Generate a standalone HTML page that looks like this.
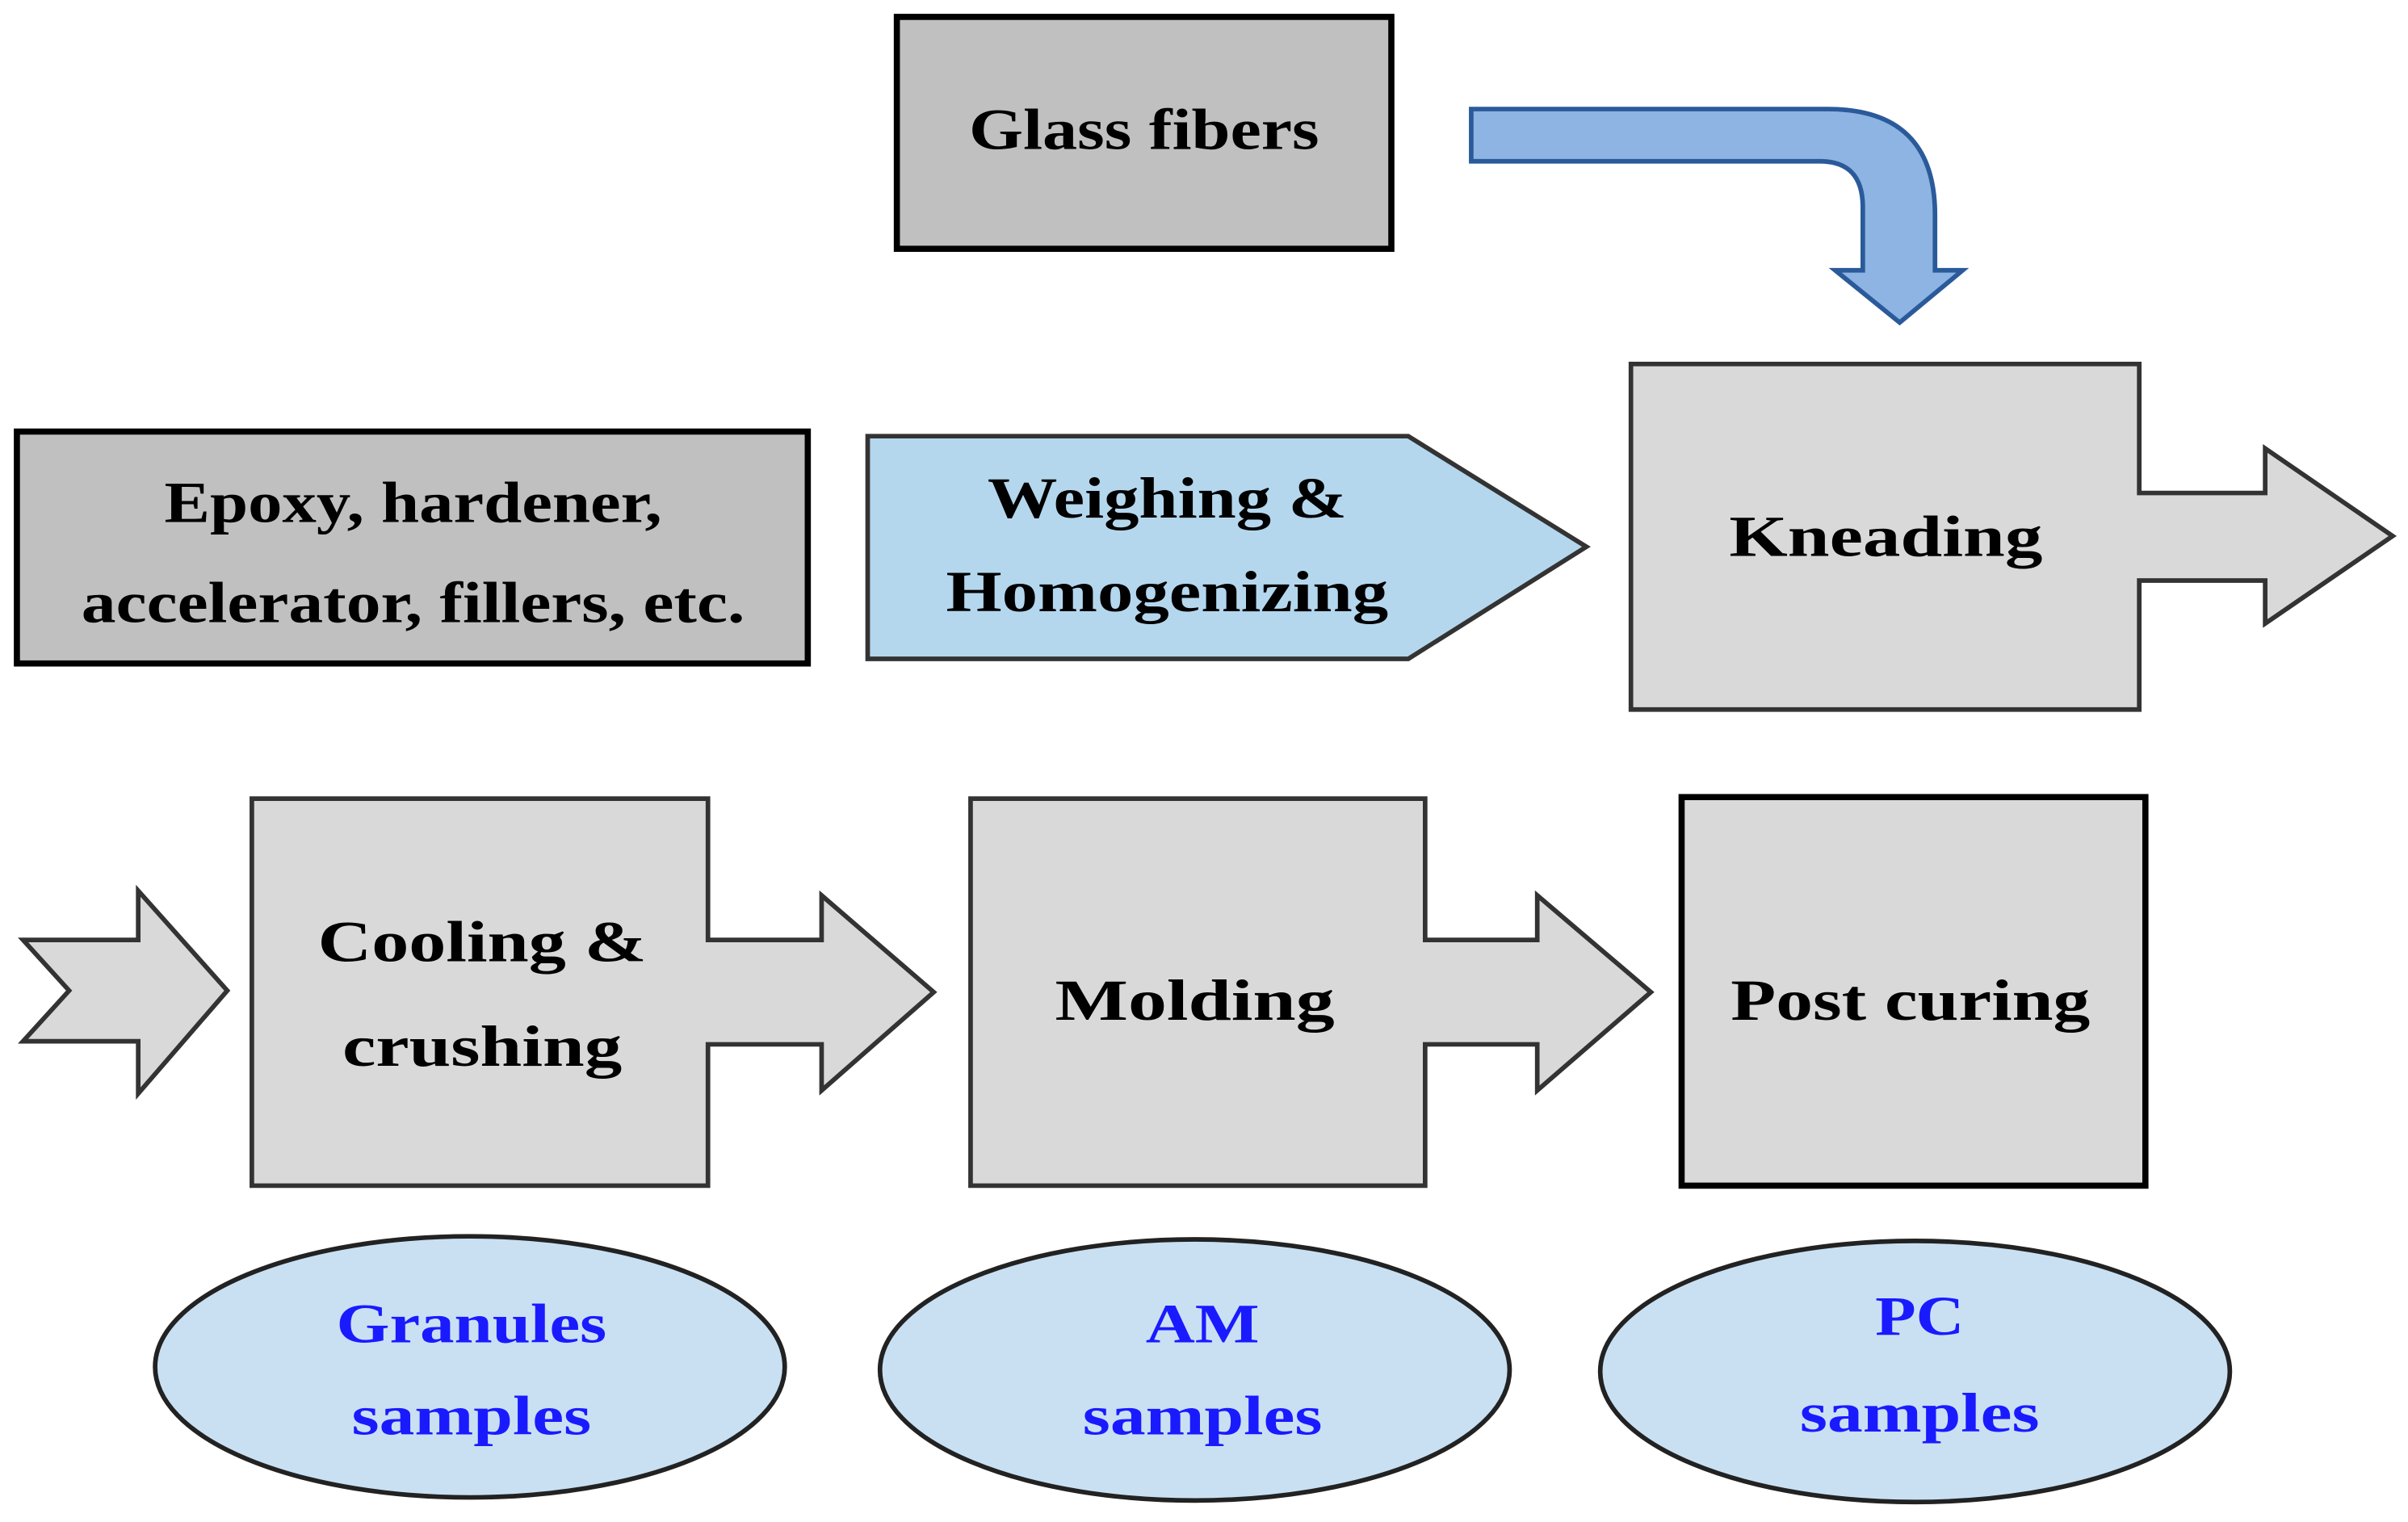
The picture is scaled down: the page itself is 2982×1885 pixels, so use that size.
<!DOCTYPE html>
<html><head><meta charset="utf-8"><style>html,body{margin:0;padding:0;background:#fff}svg{display:block}</style></head>
<body>
<svg width="2982" height="1885" viewBox="0 0 1568 991" preserveAspectRatio="none" xmlns="http://www.w3.org/2000/svg" font-family="Liberation Serif, serif" font-weight="bold">
<rect x="0" y="0" width="1568" height="991" fill="#fff"/>
<rect x="584" y="11" width="322" height="151" fill="#c0c0c0" stroke="#000" stroke-width="4"/>
<text x="745" y="97" font-size="38" text-anchor="middle" textLength="228" lengthAdjust="spacingAndGlyphs">Glass fibers</text>
<path d="M958,71 L1190,71 Q1260,71 1260,140 L1260,176 L1278,176 L1237,210 L1195,176 L1213,176 L1213,135 Q1213,105 1185,105 L958,105 Z" fill="#8eb4e3" stroke="#2a5a9a" stroke-width="3"/>
<rect x="11" y="281" width="515" height="151" fill="#c0c0c0" stroke="#000" stroke-width="4"/>
<text x="269" y="340" font-size="38" text-anchor="middle" textLength="324" lengthAdjust="spacingAndGlyphs">Epoxy, hardener,</text>
<text x="269" y="405" font-size="38" text-anchor="middle" textLength="432" lengthAdjust="spacingAndGlyphs">accelerator, fillers, etc.</text>
<path d="M565,284 L917,284 L1033,356 L917,429 L565,429 Z" fill="#b4d7ee" stroke="#333" stroke-width="3"/>
<text x="760" y="337" font-size="38" text-anchor="middle" textLength="234" lengthAdjust="spacingAndGlyphs">Weighing &amp;</text>
<text x="760" y="398" font-size="38" text-anchor="middle" textLength="288" lengthAdjust="spacingAndGlyphs">Homogenizing</text>
<path d="M1062,237 L1393,237 L1393,321 L1475,321 L1475,292 L1558,349 L1475,406 L1475,378 L1393,378 L1393,462 L1062,462 Z" fill="#d9d9d9" stroke="#333" stroke-width="3"/>
<text x="1228" y="362" font-size="38" text-anchor="middle" textLength="204" lengthAdjust="spacingAndGlyphs">Kneading</text>
<path d="M15,612 L90,612 L90,580 L148,645 L90,712 L90,678 L15,678 L45,645 Z" fill="#d9d9d9" stroke="#333" stroke-width="3"/>
<path d="M164,520 L461,520 L461,612 L535,612 L535,583 L608,646 L535,710 L535,680 L461,680 L461,772 L164,772 Z" fill="#d9d9d9" stroke="#333" stroke-width="3"/>
<text x="314" y="626" font-size="38" text-anchor="middle" textLength="214" lengthAdjust="spacingAndGlyphs">Cooling &amp;</text>
<text x="314" y="694" font-size="38" text-anchor="middle" textLength="182" lengthAdjust="spacingAndGlyphs">crushing</text>
<path d="M632,520 L928,520 L928,612 L1001,612 L1001,583 L1075,646 L1001,710 L1001,680 L928,680 L928,772 L632,772 Z" fill="#d9d9d9" stroke="#333" stroke-width="3"/>
<text x="778" y="664" font-size="38" text-anchor="middle" textLength="182" lengthAdjust="spacingAndGlyphs">Molding</text>
<rect x="1095" y="519" width="302" height="253" fill="#d9d9d9" stroke="#000" stroke-width="4"/>
<text x="1244" y="664" font-size="38" text-anchor="middle" textLength="234" lengthAdjust="spacingAndGlyphs">Post curing</text>
<ellipse cx="306" cy="890" rx="205" ry="85" fill="#c9e0f3" stroke="#222" stroke-width="3"/>
<text x="307" y="874" font-size="36" fill="#1a1aff" text-anchor="middle" textLength="176" lengthAdjust="spacingAndGlyphs">Granules</text>
<text x="307" y="934" font-size="36" fill="#1a1aff" text-anchor="middle" textLength="156" lengthAdjust="spacingAndGlyphs">samples</text>
<ellipse cx="778" cy="892" rx="205" ry="85" fill="#c9e0f3" stroke="#222" stroke-width="3"/>
<text x="783" y="874" font-size="36" fill="#1a1aff" text-anchor="middle" textLength="74" lengthAdjust="spacingAndGlyphs">AM</text>
<text x="783" y="934" font-size="36" fill="#1a1aff" text-anchor="middle" textLength="156" lengthAdjust="spacingAndGlyphs">samples</text>
<ellipse cx="1247" cy="893" rx="205" ry="85" fill="#c9e0f3" stroke="#222" stroke-width="3"/>
<text x="1250" y="869" font-size="36" fill="#1a1aff" text-anchor="middle" textLength="58" lengthAdjust="spacingAndGlyphs">PC</text>
<text x="1250" y="932" font-size="36" fill="#1a1aff" text-anchor="middle" textLength="156" lengthAdjust="spacingAndGlyphs">samples</text>
</svg>
</body></html>
